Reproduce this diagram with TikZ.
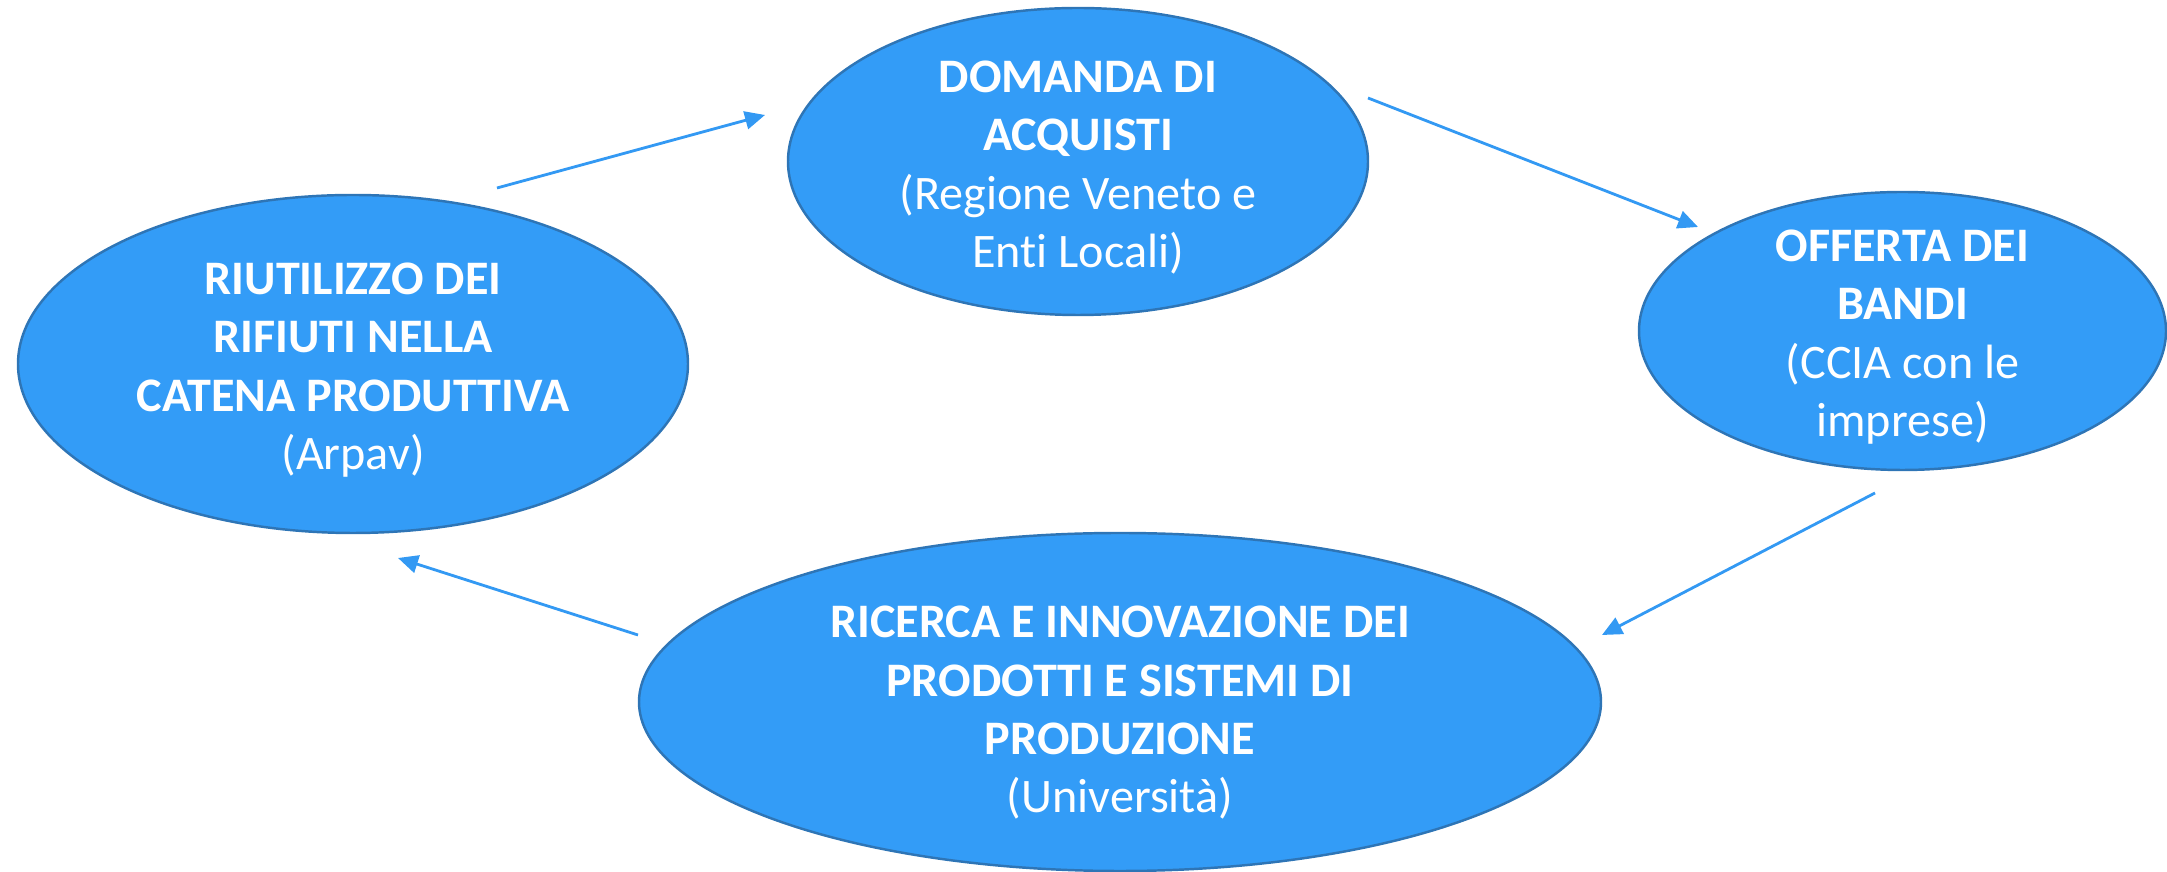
\documentclass[tikz,border=0pt]{standalone}
\usepackage{fontspec}
\setmainfont[Ligatures=NoCommon]{Carlito}
\usepackage{tikz}
\usetikzlibrary{arrows.meta,positioning,shapes.geometric}
\definecolor{bubblefill}{HTML}{339CF7}
\definecolor{bubbleedge}{HTML}{2E75B6}
\definecolor{flowblue}{HTML}{3399F3}

\begin{document}
\begin{tikzpicture}[
    bubble/.style={ellipse, draw=bubbleedge, line width=0.7pt, fill=bubblefill, inner sep=0pt},
    bubbletext/.style={align=center, text=white, inner sep=0pt, yshift=-0.06cm, font=\fontsize{13.7}{16.6}\selectfont},
    flow/.style={-{Triangle[length=2mm, width=1.8mm]}, line width=0.8pt, flowblue}
]
    \useasboundingbox (0,0) rectangle (21.67,8.72);

    % Riutilizzo (left)
    \node[bubble, minimum width=6.70cm, minimum height=3.38cm,
          label={[bubbletext]center:{\textbf{RIUTILIZZO DEI}\\\textbf{RIFIUTI NELLA}\\\textbf{CATENA PRODUTTIVA}\\(Arpav)}}]
          (riutilizzo) at (3.53,5.08) {};

    % Domanda (top)
    \node[bubble, minimum width=5.80cm, minimum height=3.07cm,
          label={[bubbletext]center:{\textbf{DOMANDA DI}\\\textbf{ACQUISTI}\\(Regione Veneto e\\Enti Locali)}}]
          (domanda) at (10.78,7.105) {};

    % Offerta (right)
    \node[bubble, minimum width=5.27cm, minimum height=2.78cm,
          label={[bubbletext]center:{\textbf{OFFERTA DEI}\\\textbf{BANDI}\\(CCIA con le\\imprese)}}]
          (offerta) at (19.025,5.41) {};

    % Ricerca (bottom)
    \node[bubble, minimum width=9.62cm, minimum height=3.38cm,
          label={[bubbletext, yshift=-0.05cm]center:{\textbf{RICERCA E INNOVAZIONE DEI}\\\textbf{PRODOTTI E SISTEMI DI}\\\textbf{PRODUZIONE}\\(Università)}}]
          (ricerca) at (11.20,1.70) {};

    % Arrow ends
    \coordinate (riutilizzo-out) at (4.97,6.84);
    \coordinate (domanda-in) at (7.65,7.57);
    \coordinate (domanda-out) at (13.68,7.74);
    \coordinate (offerta-in) at (16.98,6.45);
    \coordinate (offerta-out) at (18.75,3.79);
    \coordinate (ricerca-in) at (16.02,2.37);
    \coordinate (ricerca-out) at (6.38,2.37);
    \coordinate (riutilizzo-in) at (3.98,3.14);

    % Cycle
    \draw[flow] (riutilizzo-out) -- (domanda-in);
    \draw[flow] (domanda-out) -- (offerta-in);
    \draw[flow] (offerta-out) -- (ricerca-in);
    \draw[flow] (ricerca-out) -- (riutilizzo-in);
\end{tikzpicture}
\end{document}
